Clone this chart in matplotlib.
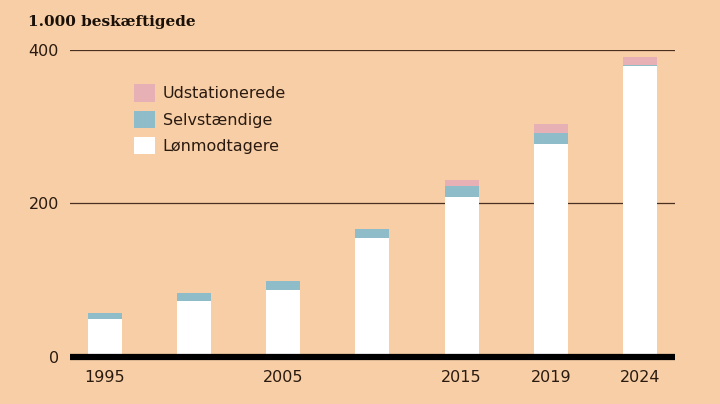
import matplotlib.pyplot as plt
from matplotlib.patches import Patch

years = ["1995", "2000", "2005", "2010", "2015", "2019", "2024"]
tick_labels = ["1995", "", "2005", "", "2015", "2019", "2024"]
loenmodtagere = [49, 73, 87, 155, 209, 277, 379]
selvstaendige = [8, 10, 12, 12, 14, 15, 2]
udstationerede = [0, 0, 0, 0, 8, 11, 10]

bg = "#f7cea6"
c_white = "#ffffff"
c_blue = "#8ebcc8"
c_pink = "#e6b0b4"

fig = plt.figure(figsize=(7.2, 4.04), dpi=100, facecolor=bg)
ax = fig.add_axes([0.0972, 0.1163, 0.840, 0.760])
ax.set_facecolor(bg)

x = list(range(len(years)))
w = 0.38
bottom2 = loenmodtagere
bottom3 = [a + b for a, b in zip(loenmodtagere, selvstaendige)]

ax.bar(x, loenmodtagere, width=w, color=c_white, zorder=3)
ax.bar(x, selvstaendige, width=w, bottom=bottom2, color=c_blue, zorder=3)
ax.bar(x, udstationerede, width=w, bottom=bottom3, color=c_pink, zorder=3)

ax.set_xlim(-0.39, 6.39)
ax.set_ylim(0, 400)
ax.set_yticks([0, 200, 400])
ax.set_yticklabels(["0", "200", "400"], fontsize=11.5, color="#2a1a10")
ax.set_xticks(x)
ax.set_xticklabels(tick_labels, fontsize=11.5, color="#2a1a10")
ax.tick_params(length=0, pad=8)
ax.tick_params(axis="x", pad=9)

for s in ["top", "right", "left"]:
    ax.spines[s].set_visible(False)
ax.spines["bottom"].set_linewidth(4.5)
ax.spines["bottom"].set_color("black")
ax.spines["bottom"].set_capstyle("butt")
ax.spines["bottom"].set_zorder(5)

for yv in [200, 400]:
    ax.axhline(yv, color="#4a3020", lw=0.9, zorder=1)

fig.text(0.039, 0.945, "1.000 beskæftigede", fontsize=11, fontweight="heavy",
         family="DejaVu Serif", color="#1a1008", va="center")

handles = [Patch(facecolor=c_pink), Patch(facecolor=c_blue), Patch(facecolor=c_white)]
labels = ["Udstationerede", "Selvstændige", "Lønmodtagere"]
ax.legend(handles, labels, loc="upper left", bbox_to_anchor=(0.082, 0.935),
          frameon=False, fontsize=11.5, handlelength=1.3, handleheight=1.3,
          handletextpad=0.5, labelspacing=0.55, labelcolor="#2a1a10")

fig.savefig("out.png", dpi=100, facecolor=bg)
